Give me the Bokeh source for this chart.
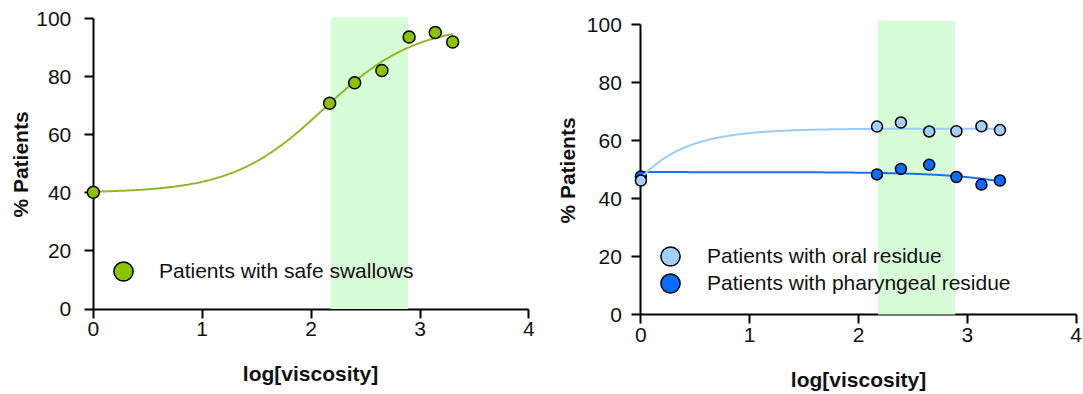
import numpy as np
from bokeh.plotting import figure
from bokeh.models import Range1d, Label, Legend, LegendItem, FixedTicker, BoxAnnotation
from bokeh.layouts import row
from bokeh.embed import file_html
from bokeh.resources import INLINE

# ---------------- data ----------------
x_ticks = [0, 1, 2, 3, 4]
y_ticks = [0, 20, 40, 60, 80, 100]

safe_log_visc = [0.0, 2.17, 2.40, 2.65, 2.90, 3.14, 3.30]
safe_pct = [40.2, 70.8, 77.9, 82.1, 93.6, 95.2, 91.9]

res_log_visc = [0.0, 2.17, 2.39, 2.65, 2.90, 3.13, 3.30]
oral_pct = [46.2, 64.8, 66.2, 63.1, 63.2, 64.9, 63.6]
phar_pct = [47.6, 48.3, 50.2, 51.6, 47.4, 44.8, 46.2]

band_safe = [2.18, 2.89, 100.4]
band_res = [2.18, 2.89, 101.4]

# fitted-curve parameters (read from the drawn fits)
safe_fit = dict(bottom=40.0, top=98.0, log_ec50=2.12, hill=1.03)
oral_fit = dict(y0=47.0, plateau=64.1, k=2.4)
phar_fit = dict(top=49.1, bottom=30.0, log_ec50=4.0, hill=1.0)
fit_span = [0.0, 3.3]

label_safe = "Patients with safe swallows"
label_oral = "Patients with oral residue"
label_phar = "Patients with pharyngeal residue"
x_title = "log[viscosity]"
y_title = "% Patients"

# ---------------- styles ----------------
FONT = "Liberation Sans"
FS = "21px"
GREEN = "#8dc200"
GREEN_LINE = "#8fb824"
LIGHT = "#a3d0fa"
LIGHT_LINE = "#9ccbf7"
DARK = "#0a6cff"
DARK_LINE = "#1f6ff5"
BAND = "#d6fdd6"
TXT = "#111111"
H = 394

xs = np.linspace(fit_span[0], fit_span[1], 300)
safe_curve = safe_fit["bottom"] + (safe_fit["top"] - safe_fit["bottom"]) / (
    1 + 10 ** ((safe_fit["log_ec50"] - xs) * safe_fit["hill"]))
oral_curve = oral_fit["plateau"] - (oral_fit["plateau"] - oral_fit["y0"]) * np.exp(-oral_fit["k"] * xs)
phar_curve = phar_fit["bottom"] + (phar_fit["top"] - phar_fit["bottom"]) / (
    1 + 10 ** ((xs - phar_fit["log_ec50"]) * phar_fit["hill"]))


def make_fig(width, x0_px, x_ppu, y0_px, y_ppu, y_label_standoff):
    # the frame fills the whole canvas; axes sit at x=0 / y=0 inside it
    x_range = Range1d(-x0_px / x_ppu, (width - x0_px) / x_ppu)
    y_range = Range1d(-(H - y0_px) / y_ppu, y0_px / y_ppu)
    p = figure(width=width, height=H, output_backend="svg", toolbar_location=None,
               x_range=x_range, y_range=y_range, min_border=0)
    p.outline_line_color = None
    p.grid.visible = False
    p.background_fill_color = "white"
    for ax in (p.xaxis[0], p.yaxis[0]):
        ax.level = "underlay"
        ax.axis_line_width = 2
        ax.axis_line_color = "black"
        ax.major_tick_line_width = 2
        ax.major_tick_line_color = "black"
        ax.major_tick_in = 0
        ax.major_tick_out = 9
        ax.minor_tick_line_color = None
        ax.major_label_text_font = FONT
        ax.major_label_text_font_size = FS
        ax.major_label_text_color = TXT
    p.xaxis.ticker = FixedTicker(ticks=x_ticks)
    p.yaxis.ticker = FixedTicker(ticks=y_ticks)
    p.xaxis.bounds = (0, 4)
    p.yaxis.bounds = (0, 100)
    p.xaxis.fixed_location = 0
    p.yaxis.fixed_location = 0
    p.yaxis.major_label_standoff = y_label_standoff
    p.xaxis.major_label_standoff = 4
    return p


def add_band(p, band):
    p.add_layout(BoxAnnotation(left=band[0], right=band[1], bottom=0, top=band[2],
                               fill_color=BAND, fill_alpha=1.0, line_color=None,
                               level="underlay"))


def add_title(p, text, x, y, angle):
    p.add_layout(Label(x=x, y=y, x_units="screen", y_units="screen", text=text,
                       angle=angle, text_align="center", text_baseline="middle",
                       text_font=FONT, text_font_size=FS, text_font_style="bold",
                       text_color=TXT))


def add_legend(p, label, renderer, loc, standoff):
    p.add_layout(Legend(items=[LegendItem(label=label, renderers=[renderer])],
                        location=loc, padding=0, margin=0, spacing=0,
                        glyph_width=48, glyph_height=48, label_standoff=standoff,
                        label_text_font=FONT, label_text_font_size=FS,
                        label_text_color=TXT, background_fill_alpha=0,
                        border_line_alpha=0))


# ---------------- left chart ----------------
p1 = make_fig(546, 92.8, 108.9, 308.5, 2.905, 13)
add_band(p1, band_safe)
p1.line(xs, safe_curve, line_color=GREEN_LINE, line_width=2)
r_safe = p1.scatter(safe_log_visc, safe_pct, size=12, fill_color=GREEN,
                    line_color="black", line_width=1.5)
add_title(p1, y_title, 19.6, 230, np.pi / 2)
add_title(p1, x_title, 310, 21, 0)
add_legend(p1, label_safe, r_safe, (99, 99), 12)

# ---------------- right chart ----------------
p2 = make_fig(537, 94.4, 108.8, 314, 2.9, 10)
add_band(p2, band_res)
p2.line(xs, phar_curve, line_color=DARK_LINE, line_width=2)
r_phar = p2.scatter(res_log_visc, phar_pct, size=11, fill_color=DARK,
                    line_color="black", line_width=1.5)
p2.line(xs, oral_curve, line_color=LIGHT_LINE, line_width=2)
r_oral = p2.scatter(res_log_visc, oral_pct, size=11, fill_color=LIGHT,
                    line_color="black", line_width=1.5)
add_title(p2, y_title, 21, 224, np.pi / 2)
add_title(p2, x_title, 312, 15, 0)
add_legend(p2, label_oral, r_oral, (100, 114), 13)
add_legend(p2, label_phar, r_phar, (100, 87), 13)

layout = row(p1, p2, spacing=0)
open("out.html", "w").write(file_html(layout, INLINE))
